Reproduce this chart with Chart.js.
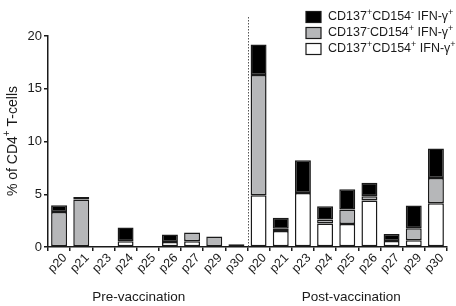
<!DOCTYPE html>
<html>
<head>
<meta charset="utf-8">
<script src="https://cdn.jsdelivr.net/npm/chart.js@4.4.1/dist/chart.umd.min.js"></script>
<style>
  html, body { margin: 0; padding: 0; background: #fff; }
</style>
</head>
<body>
<canvas id="barChart" width="456" height="306"></canvas>
<script>
// patients, first before then after vaccination
const patients = ["p20", "p21", "p23", "p24", "p25", "p26", "p27", "p29", "p30"];
const labels = patients.concat(patients);

// % of CD4+ T-cells per fraction (pre x9, post x9)
const doublePos = [0, 0, 0, 0.54, 0, 0.47, 0.55, 0, 0, 4.9, 1.52, 5.12, 2.22, 2.18, 4.4, 0.57, 0.63, 4.15];
const cd154Only = [3.32, 4.5, 0, 0, 0, 0, 0.82, 1.0, 0, 11.4, 0.2, 0, 0.38, 1.37, 0.41, 0, 1.14, 2.4];
const cd137Only = [0.64, 0.25, 0, 1.3, 0.1, 0.71, 0, 0, 0.25, 2.9, 1.05, 3.11, 1.26, 1.92, 1.29, 0.66, 2.16, 2.79];

const yTicks = [0, 5, 10, 15, 20];
const groups = ["Pre-vaccination", "Post-vaccination"];

const FONT = "'Liberation Sans', Arial, sans-serif";
const INK = "#1a1a1a";

// legend rows: [fill, text pieces]  (pieces with sup set are raised)
const legendRows = [
  ["#000000", [["CD137"], ["+", 1], ["CD154"], ["-", 1], [" IFN-\u03b3"], ["+", 1]]],
  ["#b6b7b9", [["CD137"], ["-", 1], ["CD154"], ["+", 1], [" IFN-\u03b3"], ["+", 1]]],
  ["#ffffff", [["CD137"], ["+", 1], ["CD154"], ["+", 1], [" IFN-\u03b3"], ["+", 1]]],
];

function richText(ctx, pieces, x, y, size) {
  ctx.textBaseline = "middle";
  ctx.textAlign = "left";
  for (const [t, sup] of pieces) {
    if (sup) {
      ctx.font = Math.round(size * 0.7) + "px " + FONT;
      ctx.fillText(t, x, y - size * 0.38);
    } else {
      ctx.font = size + "px " + FONT;
      ctx.fillText(t, x, y);
    }
    x += ctx.measureText(t).width;
  }
}

function richWidth(ctx, pieces, size) {
  let w = 0;
  for (const [t, sup] of pieces) {
    ctx.font = (sup ? Math.round(size * 0.7) : size) + "px " + FONT;
    w += ctx.measureText(t).width;
  }
  return w;
}

const extras = {
  id: "extras",
  afterDraw(chart) {
    const ctx = chart.ctx;
    const x = chart.scales.x;
    const area = chart.chartArea;
    ctx.save();

    // x tick labels at 45 degrees
    ctx.fillStyle = INK;
    ctx.font = "12.5px " + FONT;
    ctx.textAlign = "right";
    ctx.textBaseline = "middle";
    labels.forEach((lab, i) => {
      const px = x.getPixelForValue(i);
      ctx.setTransform(1, 0, 0, 1, px + 6, area.bottom + 9);
      ctx.rotate(-Math.PI / 4);
      ctx.fillText(lab, 0, 0);
    });
    ctx.setTransform(1, 0, 0, 1, 0, 0);

    // dotted divider between the two groups
    const half = patients.length;
    const divX = Math.round((x.getPixelForValue(half - 1) + x.getPixelForValue(half)) / 2) + 0.5;
    ctx.strokeStyle = "#555";
    ctx.lineWidth = 1;
    ctx.setLineDash([1.5, 1.5]);
    ctx.beginPath();
    ctx.moveTo(divX, 17);
    ctx.lineTo(divX, area.bottom);
    ctx.stroke();
    ctx.setLineDash([]);

    // legend
    legendRows.forEach(([fill, pieces], i) => {
      const cy = 17 + i * 16;
      ctx.fillStyle = fill;
      ctx.fillRect(306, cy - 5.5, 15, 11);
      ctx.strokeStyle = INK;
      ctx.lineWidth = 1.2;
      ctx.strokeRect(306, cy - 5.5, 15, 11);
      ctx.fillStyle = INK;
      richText(ctx, pieces, 328, cy, 12.5);
    });

    // y axis title
    const yt = [["% of CD4"], ["+", 1], [" T-cells"]];
    const w = richWidth(ctx, yt, 14);
    ctx.translate(13, 141);
    ctx.rotate(-Math.PI / 2);
    ctx.fillStyle = INK;
    richText(ctx, yt, -w / 2, 0, 14);
    ctx.setTransform(1, 0, 0, 1, 0, 0);

    // group labels
    ctx.font = "13.5px " + FONT;
    ctx.textAlign = "center";
    ctx.textBaseline = "middle";
    const preC = (x.getPixelForValue(0) + x.getPixelForValue(half - 1)) / 2 - 9;
    const postC = (x.getPixelForValue(half) + x.getPixelForValue(2 * half - 1)) / 2 + 4;
    ctx.fillText(groups[0], preC, 297);
    ctx.fillText(groups[1], postC, 297);
    ctx.restore();
  },
};

const axisGrid = {
  drawOnChartArea: false,
  drawTicks: true,
  tickLength: 4,
  color: INK,
  lineWidth: 1.5,
};

const ctx = document.getElementById("barChart");

new Chart(ctx, {
  type: "bar",
  data: {
    labels: labels,
    datasets: [
      { label: "CD137+CD154+ IFN-g+", data: doublePos, backgroundColor: "#ffffff" },
      { label: "CD137-CD154+ IFN-g+", data: cd154Only, backgroundColor: "#b6b7b9" },
      { label: "CD137+CD154- IFN-g+", data: cd137Only, backgroundColor: "#000000" },
    ].map((d) => Object.assign(d, {
      borderColor: INK,
      borderWidth: 1.5,
      borderSkipped: false,
      categoryPercentage: 1,
      barPercentage: 0.72,
    })),
  },
  options: {
    responsive: false,
    animation: false,
    devicePixelRatio: 1,
    layout: { padding: { top: 36, right: 9, left: 0, bottom: 0 } },
    plugins: {
      legend: { display: false },
      tooltip: { enabled: false },
    },
    scales: {
      x: {
        stacked: true,
        offset: true,
        grid: axisGrid,
        border: { color: INK, width: 1.5 },
        ticks: { display: false },
        afterFit: (s) => { s.height = 59; },
      },
      y: {
        stacked: true,
        min: 0,
        max: 20,
        grid: axisGrid,
        border: { color: INK, width: 1.5 },
        ticks: {
          padding: 2,
          color: INK,
          font: { family: FONT, size: 13 },
        },
        afterBuildTicks: (s) => { s.ticks = yTicks.map((v) => ({ value: v })); },
        afterFit: (s) => { s.width = 48; },
      },
    },
  },
  plugins: [extras],
});
</script>
</body>
</html>
